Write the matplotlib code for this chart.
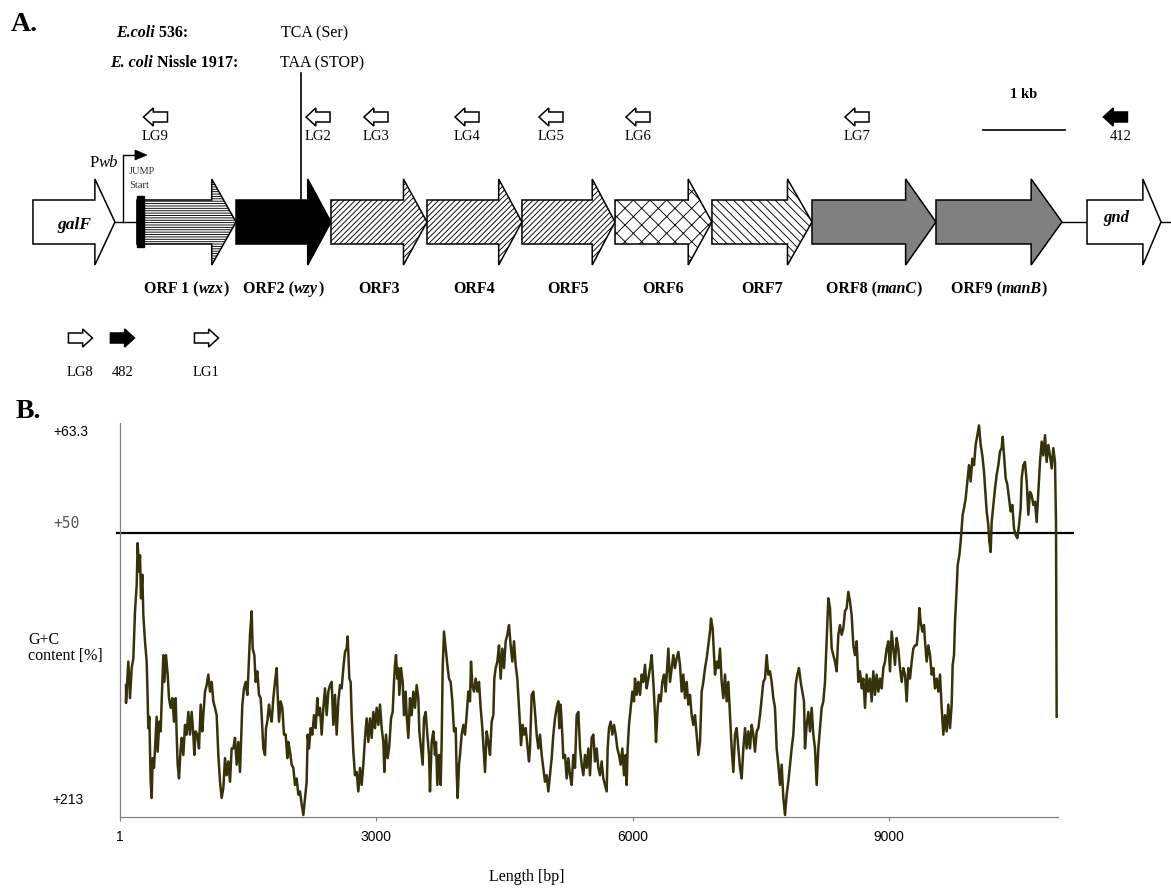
import numpy as np
import matplotlib as mpl
import matplotlib.pyplot as plt
import matplotlib.transforms as mtransforms
from matplotlib.patches import Polygon, Rectangle

mpl.rcParams['font.family'] = 'Liberation Serif'
mpl.rcParams['hatch.linewidth'] = 0.65

# ---------------- gene cluster (bp) ----------------
gene_names = ['galF', 'ORF1', 'ORF2', 'ORF3', 'ORF4', 'ORF5', 'ORF6', 'ORF7', 'ORF8', 'ORF9', 'gnd']
gene_start = [0, 1268, 2476, 3634, 4805, 5963, 7098, 8280, 9500, 11012, 12854]
gene_end = [1000, 2476, 3634, 4805, 5963, 7098, 8280, 9500, 11012, 12549, 13756]
# label pieces: (text, italic)
gene_labels = [[],
               [('ORF 1 (', False), ('wzx', True), (')', False)],
               [('ORF2 (', False), ('wzy', True), (')', False)],
               [('ORF3', False)], [('ORF4', False)], [('ORF5', False)],
               [('ORF6', False)], [('ORF7', False)],
               [('ORF8 (', False), ('manC', True), (')', False)],
               [('ORF9 (', False), ('manB', True), (')', False)],
               []]

primer_names = ['LG9', 'LG2', 'LG3', 'LG4', 'LG5', 'LG6', 'LG7', '412', 'LG8', '482', 'LG1']
primer_pos = [1494, 3476, 4183, 5293, 6317, 7378, 10049, 13200, 579, 1091, 2116]
primer_strand = [-1, -1, -1, -1, -1, -1, -1, -1, 1, 1, 1]
primer_filled = [False, False, False, False, False, False, False, True, False, True, False]

pwb_pos = 1098        # promoter
codon_pos = 3268      # TCA / TAA position in ORF2
scale_start = 11585   # 1 kb bar

# ---------------- G+C profile ----------------
BP_PER_STEP = 3.9
win1 = [18, 18, 25, 30, 35, 40, 45, 50, 53, 57,
        60, 63, 67, 70, 75, 80, 82, 85, 88, 92,
        95, 98, 102, 107, 110, 113, 118, 122, 125, 130,
        133, 138, 143, 147, 152, 157, 162, 167, 170, 173,
        177, 182, 185, 190, 195, 200, 205, 210, 215, 220,
        223, 227, 232, 237, 242, 247, 250, 255, 260, 265,
        270, 275, 280, 285, 290, 295, 300, 305, 310, 315,
        320, 325, 330, 335, 340, 345, 350, 355, 360, 363,
        367, 372, 377, 382, 385, 390, 395, 398, 403, 407,
        412, 417, 422, 425, 430, 435, 438, 442, 447, 451,
        455, 460, 465, 470, 473, 477, 482, 487, 492, 497,
        502, 505, 510, 515, 520, 525, 530, 535, 540, 545,
        550, 555, 560, 563, 567, 572, 577, 582, 587, 592,
        595, 600, 605, 610, 615, 620, 625, 630, 635, 640,
        645, 650, 655, 660, 665, 670, 675, 680, 683, 688,
        692, 695, 700, 705]
gc1 = [31.3, 29.1, 34.2, 29.7, 33.4, 34.6, 40.4, 43.6, 48.8, 45.3,
       47.3, 42.0, 44.9, 39.9, 36.7, 34.2, 31.3, 26.0, 27.4, 19.4,
       17.4, 22.3, 21.1, 25.2, 27.4, 23.1, 26.8, 25.6, 29.3, 35.0,
       31.7, 35.0, 32.6, 29.7, 28.5, 29.7, 26.8, 29.7, 25.2, 21.5,
       19.8, 23.5, 24.8, 22.7, 26.4, 25.2, 28.0, 25.2, 28.0, 25.2,
       22.7, 25.6, 25.2, 23.5, 28.9, 25.6, 27.6, 30.5, 31.3, 32.6,
       30.5, 31.7, 29.3, 28.5, 27.6, 22.7, 19.4, 17.4, 18.6, 22.3,
       20.2, 21.9, 19.4, 23.5, 23.5, 24.8, 21.5, 24.3, 20.6, 24.3,
       28.9, 30.9, 31.7, 30.1, 32.6, 37.5, 40.4, 35.8, 35.0, 31.7,
       33.0, 30.1, 29.7, 27.6, 23.5, 22.7, 26.0, 26.8, 28.9, 27.6,
       26.8, 29.7, 31.7, 33.4, 30.1, 26.8, 29.3, 28.5, 25.2, 25.2,
       22.3, 24.3, 23.1, 21.5, 21.1, 19.0, 19.8, 17.8, 18.2, 16.6,
       15.3, 17.4, 19.4, 25.2, 23.5, 26.0, 25.2, 27.6, 26.0, 29.7,
       27.6, 28.5, 25.2, 28.5, 30.9, 27.6, 30.5, 31.3, 31.7, 26.4,
       30.1, 25.2, 29.3, 31.3, 30.9, 33.4, 35.4, 35.8, 37.3, 32.1,
       31.7, 27.6, 23.1, 20.2]

win2 = [710, 715, 720, 725, 730, 735, 740, 745, 750, 755,
        760, 765, 770, 775, 780, 785, 790, 793, 798, 803,
        808, 813, 818, 822, 825, 828, 832, 835, 838, 843,
        848, 852, 857, 860, 865, 870, 875, 880, 885, 890,
        895, 898, 903, 908, 912, 917, 922, 927, 930, 935,
        940, 945, 948, 952, 957, 962, 965, 968, 972, 977,
        982, 987, 992, 997, 1002, 1007, 1010, 1013, 1017, 1020,
        1025, 1030, 1035, 1040, 1045, 1050, 1053, 1057, 1062, 1067,
        1072, 1077, 1082, 1087, 1090, 1095, 1100, 1105, 1110, 1115,
        1120, 1123, 1127, 1132, 1137, 1142, 1147, 1152, 1157, 1162,
        1167, 1172, 1177, 1182, 1187, 1192, 1197, 1200, 1203, 1208,
        1212, 1217, 1222, 1227, 1230, 1235, 1240, 1245, 1250, 1255,
        1260, 1265, 1270, 1275, 1280, 1285, 1290, 1295, 1300, 1305,
        1310, 1315, 1318, 1322, 1327, 1330, 1335, 1340, 1345, 1350,
        1355, 1360, 1365, 1370, 1375, 1380, 1385, 1390, 1395, 1400,
        1405, 1410]
gc2 = [20.6, 18.2, 21.1, 19.0, 21.5, 24.8, 27.2, 24.3, 27.2, 24.8,
       28.0, 26.0, 28.5, 26.4, 28.9, 26.0, 24.3, 20.6, 25.2, 22.3,
       23.9, 27.2, 28.0, 31.7, 33.8, 35.0, 32.1, 33.4, 30.1, 33.4,
       31.7, 27.6, 30.5, 27.6, 24.8, 29.7, 27.6, 30.5, 28.5, 31.3,
       29.7, 25.6, 23.5, 21.5, 27.2, 28.0, 25.2, 22.7, 18.2, 24.3,
       25.6, 22.7, 24.3, 19.0, 22.7, 19.0, 24.3, 33.4, 37.9, 35.8,
       33.8, 32.1, 31.7, 29.3, 25.6, 26.0, 20.6, 17.4, 21.5, 22.7,
       25.2, 26.4, 25.2, 27.6, 30.5, 29.3, 34.2, 31.3, 30.5, 32.1,
       30.5, 31.7, 28.5, 26.0, 23.9, 20.6, 25.6, 24.3, 22.7, 26.8,
       27.6, 32.1, 33.4, 34.2, 36.2, 32.1, 35.8, 33.4, 36.7, 37.5,
       38.7, 36.2, 34.2, 36.7, 33.8, 32.1, 28.5, 26.4, 23.9, 26.4,
       25.2, 26.0, 23.9, 21.9, 23.5, 30.1, 30.5, 28.0, 25.2, 23.5,
       25.2, 22.7, 21.1, 19.4, 20.2, 18.2, 20.2, 22.3, 25.2, 27.2,
       28.5, 29.3, 26.0, 28.9, 25.2, 22.3, 22.7, 19.8, 22.3, 20.2,
       19.0, 22.7, 21.1, 27.6, 28.0, 23.5, 21.5, 20.2, 22.7, 21.1,
       23.5, 20.2]

win3 = [1415, 1420, 1425, 1430, 1435, 1440, 1445, 1450, 1455, 1460,
        1463, 1467, 1472, 1477, 1482, 1487, 1492, 1497, 1502, 1507,
        1512, 1517, 1520, 1523, 1527, 1532, 1537, 1542, 1545, 1550,
        1555, 1560, 1565, 1570, 1575, 1580, 1585, 1590, 1595, 1600,
        1605, 1608, 1613, 1617, 1622, 1627, 1632, 1637, 1642, 1645,
        1650, 1655, 1660, 1665, 1670, 1675, 1680, 1685, 1690, 1695,
        1700, 1705, 1710, 1715, 1720, 1725, 1730, 1735, 1740, 1745,
        1750, 1755, 1760, 1765, 1770, 1773, 1778, 1782, 1785, 1790,
        1795, 1800, 1805, 1810, 1815, 1820, 1825, 1830, 1835, 1840,
        1845, 1850, 1855, 1860, 1865, 1870, 1875, 1880, 1885, 1890,
        1895, 1900, 1905, 1910, 1915, 1920, 1925, 1930, 1935, 1940,
        1945, 1950, 1955, 1960, 1965, 1970, 1975, 1980, 1985, 1990,
        1995, 2000, 2005, 2010, 2015, 2020, 2023, 2027, 2032, 2037,
        2042, 2047, 2052, 2055, 2060, 2065, 2070, 2075, 2080, 2085,
        2090, 2095, 2100, 2105, 2110, 2115]
gc3 = [24.8, 25.2, 21.9, 23.5, 21.1, 20.2, 21.9, 19.8, 19.0, 18.2,
       23.5, 26.0, 26.8, 25.2, 26.4, 25.2, 23.5, 22.7, 21.5, 23.5,
       20.2, 22.7, 19.0, 23.5, 26.4, 28.5, 30.5, 29.3, 32.1, 30.1,
       31.7, 30.1, 32.6, 31.7, 33.8, 30.9, 32.1, 33.4, 35.0, 31.7,
       27.6, 24.3, 28.5, 30.1, 29.3, 31.7, 32.6, 30.5, 33.8, 35.8,
       31.7, 33.4, 35.0, 33.4, 34.6, 35.4, 33.8, 30.5, 32.6, 29.7,
       31.7, 28.9, 30.1, 27.6, 26.4, 27.6, 25.2, 22.7, 24.3, 30.5,
       31.7, 33.4, 34.6, 36.2, 37.9, 39.5, 38.3, 35.0, 32.6, 34.2,
       33.4, 35.8, 31.7, 29.7, 32.6, 29.3, 31.7, 27.6, 23.5, 20.6,
       25.2, 26.0, 23.5, 21.1, 19.8, 23.5, 26.0, 23.5, 25.6, 23.5,
       26.4, 25.2, 23.1, 25.6, 26.0, 27.6, 29.7, 31.7, 32.1, 35.0,
       32.6, 33.0, 31.7, 29.7, 28.5, 23.5, 21.5, 19.0, 21.5, 17.4,
       15.3, 17.8, 19.4, 21.5, 23.5, 25.2, 27.6, 31.3, 32.6, 33.4,
       31.7, 30.5, 29.3, 23.5, 26.4, 28.0, 25.6, 28.5, 25.2, 23.5,
       19.0, 23.5, 26.0, 28.5, 29.3, 31.7]

win4 = [2120, 2125, 2130, 2135, 2140, 2145, 2150, 2155, 2160, 2165,
        2170, 2175, 2180, 2185, 2190, 2195, 2200, 2205, 2210, 2215,
        2220, 2225, 2230, 2235, 2240, 2245, 2250, 2255, 2260, 2265,
        2270, 2275, 2280, 2285, 2290, 2295, 2300, 2305, 2310, 2315,
        2320, 2325, 2330, 2335, 2340, 2345, 2350, 2355, 2360, 2365,
        2370, 2375, 2380, 2385, 2390, 2395, 2398, 2402, 2407, 2412,
        2415, 2420, 2425, 2430, 2435, 2440, 2445, 2450, 2455, 2460,
        2465, 2470, 2475, 2480, 2485, 2490, 2495, 2498, 2502, 2505,
        2510, 2513, 2518, 2522, 2525, 2528, 2532, 2537, 2542, 2547,
        2552, 2557, 2562, 2567, 2572, 2577, 2582, 2587, 2592, 2596,
        2600, 2605, 2608, 2612, 2615, 2620, 2625, 2630, 2635, 2640,
        2645, 2648, 2652, 2657, 2662, 2667, 2672, 2677, 2682, 2687,
        2692, 2697, 2702, 2705, 2710, 2715, 2720, 2725, 2730, 2735,
        2740, 2745, 2750, 2755, 2760, 2765, 2770, 2775, 2780, 2785,
        2790, 2795, 2800, 2805, 2808, 2810]
gc4 = [36.7, 42.0, 40.8, 35.8, 35.0, 34.2, 33.0, 37.5, 38.7, 37.5,
       38.3, 40.4, 40.8, 42.8, 41.6, 39.9, 36.2, 35.0, 36.7, 31.7,
       33.0, 30.9, 32.1, 28.5, 32.6, 30.5, 32.1, 29.3, 33.0, 30.1,
       32.6, 30.5, 32.1, 30.9, 33.4, 34.2, 35.8, 36.7, 33.0, 37.9,
       35.8, 33.8, 37.1, 35.8, 33.4, 31.7, 33.4, 32.6, 29.3, 33.4,
       32.1, 34.2, 35.8, 36.2, 36.2, 38.3, 40.8, 39.1, 37.9, 38.7,
       36.7, 34.2, 36.2, 35.0, 32.6, 33.4, 30.9, 32.1, 30.5, 32.6,
       28.5, 25.2, 27.6, 25.6, 28.9, 26.0, 28.9, 33.8, 35.0, 39.1,
       43.2, 46.1, 47.3, 49.0, 50.6, 52.3, 53.1, 54.3, 56.4, 58.4,
       56.4, 59.2, 58.4, 60.9, 62.1, 63.3, 60.9, 59.6, 57.6, 55.1,
       52.7, 51.0, 49.0, 47.7, 51.4, 53.5, 55.5, 57.2, 58.4, 60.1,
       60.5, 61.9, 59.6, 56.8, 56.0, 54.3, 52.7, 53.5, 50.6, 49.8,
       49.4, 51.0, 53.1, 56.8, 58.4, 58.8, 56.4, 52.3, 55.1, 54.7,
       53.5, 53.9, 51.4, 55.1, 58.8, 61.3, 59.6, 62.1, 58.8, 60.9,
       59.6, 58.0, 60.5, 58.8, 51.4, 27.4]

x_ticks = [1, 3000, 6000, 9000]
x_ticklabels = ['1', '3000', '6000', '9000']
gc_threshold = 50


W, H = 1171, 888
fig = plt.figure(figsize=(W / 100, H / 100), dpi=100)
renderer = fig.canvas.get_renderer()


def fx(px):
    return px / W


def fy(py):
    return 1 - py / H


def advance(txt, **kw):
    # width of a string including leading/trailing blanks
    t = fig.text(0, 0, '|' + txt + '|', **kw)
    w1 = t.get_window_extent(renderer).width
    t.set_text('||')
    w2 = t.get_window_extent(renderer).width
    t.remove()
    return w1 - w2


def rich_text(x, y, parts, size, weight='normal', ha='left', zorder=5):
    # parts: list of (text, italic); x in px, y = baseline in px from top
    kws = [dict(fontsize=size, fontweight=weight, fontstyle='italic' if it else 'normal')
           for _, it in parts]
    widths = [advance(txt, **kw) for (txt, _), kw in zip(parts, kws)]
    if ha == 'center':
        x -= sum(widths) / 2
    for (txt, _), kw, w in zip(parts, kws, widths):
        fig.text(fx(x), fy(y), txt, ha='left', va='baseline', zorder=zorder, **kw)
        x += w


# ================= A. gene map =================
ax = fig.add_axes([0, 0, 1, 1])
ax.set_xlim(-402, 13878)
ax.set_ylim(H, 0)
ax.axis('off')


def bp2px(bp):
    return ax.transData.transform((bp, 0))[0]


Y0 = 222              # row of the gene arrows
SHAFT, HEAD = 22, 43

ax.plot([gene_end[0], 13878], [Y0, Y0], color='black', lw=1.0, zorder=1)

styles = {
    'galF': ('white', None), 'ORF1': ('white', '-------'), 'ORF2': ('black', None),
    'ORF3': ('white', '//////'), 'ORF4': ('white', '//////'), 'ORF5': ('white', '//////'),
    'ORF6': ('white', 'xx'), 'ORF7': ('white', '\\\\\\\\'),
    'ORF8': ('#808080', None), 'ORF9': ('#808080', None), 'gnd': ('white', None),
}
for name, s, e, lab in zip(gene_names, gene_start, gene_end, gene_labels):
    fc, hatch = styles[name]
    h = 0.245 * (e - s)
    verts = [(s, Y0 - SHAFT), (e - h, Y0 - SHAFT), (e - h, Y0 - HEAD), (e, Y0),
             (e - h, Y0 + HEAD), (e - h, Y0 + SHAFT), (s, Y0 + SHAFT)]
    ax.add_patch(Polygon(verts, closed=True, facecolor=fc, edgecolor='black',
                         hatch=hatch, lw=1.1, zorder=3))
    if lab:
        rich_text(bp2px((s + e) / 2), 293, lab, 11.5, weight='bold', ha='center')

# start of ORF1 marked by a black bar
ax.add_patch(Rectangle((gene_start[1], Y0 - 26), 85, 51, facecolor='black',
                       edgecolor='black', zorder=4))

rich_text(bp2px((gene_start[0] + gene_end[0]) / 2), 229, [('galF', True)], 12.5,
          weight='bold', ha='center')
rich_text(bp2px((gene_start[-1] + gene_end[-1]) / 2) - 8, 222, [('gnd', True)], 12,
          weight='bold', ha='center')

# promoter Pwb
ax.plot([pwb_pos, pwb_pos, pwb_pos + 150], [Y0, 155, 155], color='black', lw=1.0, zorder=2)
ax.add_patch(Polygon([(pwb_pos + 146, 150), (pwb_pos + 292, 155), (pwb_pos + 146, 160)],
                     closed=True, facecolor='black', edgecolor='black', lw=0.5))
rich_text(104, 167, [('P', False), ('wb', True)], 12, ha='center')
fig.text(fx(129), fy(171), 'JUMP', ha='left', va='center', fontsize=7.5, color='#333333')
fig.text(fx(129), fy(186), 'Start', ha='left', va='center', fontsize=7.5, color='#333333')

# codon change in ORF2
ax.plot([codon_pos, codon_pos], [73, Y0 - SHAFT - 1], color='black', lw=1.2, zorder=2)
rich_text(116, 37, [('E.coli', True), (' 536:', False)], 11.5, weight='bold')
rich_text(110, 67, [('E. coli', True), (' Nissle 1917:', False)], 11.5, weight='bold')
fig.text(fx(281), fy(37), 'TCA (Ser)', ha='left', va='baseline', fontsize=11.5)
fig.text(fx(280), fy(67), 'TAA (STOP)', ha='left', va='baseline', fontsize=11.5)

# primers
PW = 293      # arrow length in bp
PH = 120      # head length in bp
for name, p, strand, filled, in zip(primer_names, primer_pos, primer_strand, primer_filled):
    yc, yl = (117, 137) if strand < 0 else (338, 372)
    tip = p + strand * PW / 2
    back = p - strand * PW / 2
    neck = tip - strand * PH
    verts = [(tip, yc), (neck, yc - 9), (neck, yc - 5), (back, yc - 5),
             (back, yc + 5), (neck, yc + 5), (neck, yc + 9)]
    ax.add_patch(Polygon(verts, closed=True, facecolor='black' if filled else 'white',
                         edgecolor='black', lw=1.1, zorder=3))
    ax.text(p + (70 if name == '412' else 0), yl, name, ha='center', va='center', fontsize=10.5)

# scale bar
ax.plot([scale_start, scale_start + 1000], [130, 130], color='black', lw=1.2)
ax.text(scale_start + 500, 95, '1 kb', ha='center', va='center', fontsize=10.5, fontweight='bold')

fig.text(fx(11), fy(31), 'A.', ha='left', va='baseline', fontsize=20, fontweight='bold')
fig.text(fx(16), fy(418), 'B.', ha='left', va='baseline', fontsize=20, fontweight='bold')

# ================= B. G+C content =================
win = np.array(win1 + win2 + win3 + win4)
gc = np.array(gc1 + gc2 + gc3 + gc4)
pos = 1 + win * BP_PER_STEP

gx = fig.add_axes([fx(120), fy(817), 938 / W, 394 / H])
gx.plot(pos, gc, color='#36330a', lw=1.8, zorder=3)
gx.set_xlim(1, 1 + 2814 * BP_PER_STEP)
gx.set_ylim(15.05, 63.6)
gx.axhline(gc_threshold, xmin=-0.003, xmax=1.016, color='black', lw=1.6, clip_on=False, zorder=2)

for side in ('top', 'right'):
    gx.spines[side].set_visible(False)
for side in ('left', 'bottom'):
    gx.spines[side].set_color('#808080')
    gx.spines[side].set_linewidth(0.9)

gx.set_yticks([])
gx.set_xticks(x_ticks)
gx.set_xticklabels(x_ticklabels, fontfamily='Liberation Sans', fontsize=10)
gx.tick_params(axis='x', length=3, color='#808080', width=0.8, pad=6)

trans = mtransforms.blended_transform_factory(gx.transAxes, gx.transData)
gx.text(-0.034, 63.3, '+63.3', transform=trans, ha='right', va='top',
        fontfamily='Liberation Sans', fontsize=10)
gx.text(-0.043, gc_threshold + 0.3, '+50', transform=trans, ha='right', va='bottom',
        fontfamily='DejaVu Sans Mono', fontsize=10.5, color='#555555')
gx.text(-0.039, 0.043, '+213', transform=gx.transAxes, ha='right', va='center',
        fontfamily='Liberation Sans', fontsize=10)

fig.text(fx(28), fy(648), 'G+C\ncontent [%]', ha='left', va='center', fontsize=11.5,
         linespacing=1.05)
fig.text(fx(527), fy(877), 'Length [bp]', ha='center', va='center', fontsize=11.5)

fig.savefig('out.png', dpi=100)
